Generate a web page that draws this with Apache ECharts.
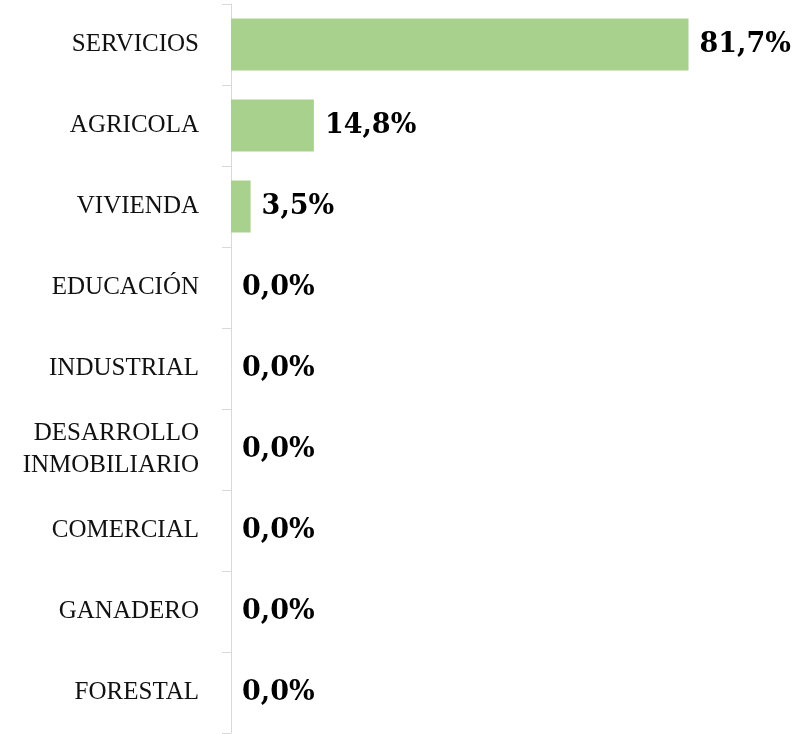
<!DOCTYPE html>
<html>
<head>
<meta charset="utf-8">
<script src="https://cdn.jsdelivr.net/npm/echarts@6/dist/echarts.min.js"></script>
<style>
html,body{margin:0;padding:0;background:#fff;}
#chart{width:799px;height:734px;}
</style>
</head>
<body>
<div id="chart"></div>
<script>
const categories = ['SERVICIOS','AGRICOLA','VIVIENDA','EDUCACIÓN','INDUSTRIAL','DESARROLLO\nINMOBILIARIO','COMERCIAL','GANADERO','FORESTAL'];
const values = [81.7, 14.8, 3.5, 0, 0, 0, 0, 0, 0];

const chart = echarts.init(document.getElementById('chart'));
chart.setOption({
  animation: false,
  grid: {left: 231, top: 4, width: 560, height: 729, containLabel: false},
  xAxis: {
    type: 'value', min: 0, max: 100, show: false
  },
  yAxis: {
    type: 'category',
    data: categories,
    inverse: true,
    axisLine: {show: true, lineStyle: {color: '#d9d9d9', width: 1}},
    axisTick: {show: true, length: 9, lineStyle: {color: '#d9d9d9'}},
    axisLabel: {
      margin: 32,
      fontFamily: 'Liberation Serif',
      fontSize: 25,
      color: '#111',
      lineHeight: 32,
      align: 'right'
    },
    splitLine: {show: false}
  },
  series: [{
    type: 'bar',
    data: values,
    barWidth: 52,
    itemStyle: {color: '#a9d18e'},
    label: {
      show: true,
      position: 'right',
      distance: 11,
      fontFamily: 'DejaVu Serif',
      fontWeight: 'bold',
      fontSize: 27,
      color: '#000',
      formatter: p => p.value.toFixed(1).replace('.', ',') + '%'
    }
  }]
});
</script>
</body>
</html>
